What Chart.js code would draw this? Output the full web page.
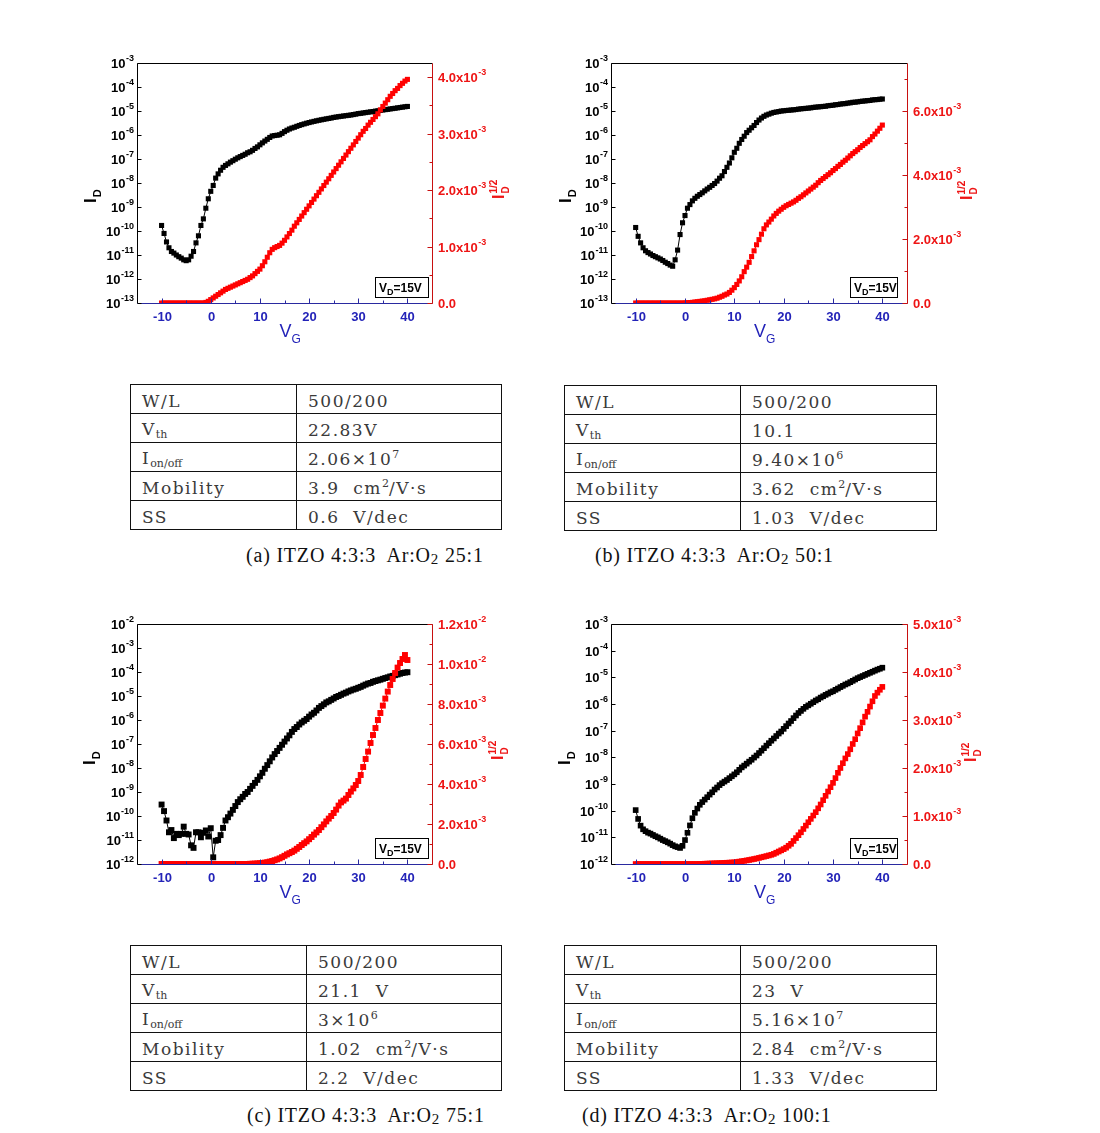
<!DOCTYPE html>
<html>
<head>
<meta charset="utf-8">
<title>ITZO TFT transfer curves</title>
<script src="https://cdn.jsdelivr.net/npm/chart.js@4.4.1/dist/chart.umd.min.js"></script>
<style>
  body { margin: 0; background: #fff; }
  #page { position: relative; width: 1100px; height: 1133px; overflow: hidden; background: #fff; }
  #page canvas { position: absolute; }
  table.param { position: absolute; border-collapse: collapse; table-layout: fixed;
    font-family: "DejaVu Serif", "Liberation Serif", serif; font-size: 17px; color: #3a3a3a; letter-spacing: 1.5px; }
  table.param tr { height: 29px; }
  table.param td { border: 1px solid #111; padding: 3px 0 0 11px; white-space: nowrap; vertical-align: middle; overflow: hidden; }
  table.param sub { font-size: 11px; vertical-align: -3px; letter-spacing: 0; }
  table.param sup { font-size: 11px; vertical-align: 7px; letter-spacing: 0; }
  .caption { position: absolute; font-family: "Liberation Serif", "Times New Roman", serif; font-size: 20px;
    line-height: 20px; letter-spacing: 0.8px; color: #111; white-space: pre; }
  .caption sub { font-size: 15px; vertical-align: -2px; line-height: 0; }
</style>
</head>
<body>
<div id="page"></div>
<script>
// gate voltage sweep, V
const vg = [
  -10, -9.5, -9, -8.5, -8, -7.5, -7, -6.5, -6, -5.5,
  -5, -4.5, -4, -3.5, -3, -2.5, -2, -1.5, -1, -0.5,
  0, 0.5, 1, 1.5, 2, 2.5, 3, 3.5, 4, 4.5,
  5, 5.5, 6, 6.5, 7, 7.5, 8, 8.5, 9, 9.5,
  10, 10.5, 11, 11.5, 12, 12.5, 13, 13.5, 14, 14.5,
  15, 15.5, 16, 16.5, 17, 17.5, 18, 18.5, 19, 19.5,
  20, 20.5, 21, 21.5, 22, 22.5, 23, 23.5, 24, 24.5,
  25, 25.5, 26, 26.5, 27, 27.5, 28, 28.5, 29, 29.5,
  30, 30.5, 31, 31.5, 32, 32.5, 33, 33.5, 34, 34.5,
  35, 35.5, 36, 36.5, 37, 37.5, 38, 38.5, 39, 39.5,
  40
];

// (a) Ar:O2 25:1  -- I_D in A, sqrt(I_D) in units of 1e-3
const aId = [
  1.7e-10, 7.9e-11, 3.5e-11, 2.0e-11, 1.4e-11, 1.2e-11, 1.0e-11, 8.5e-12, 7.4e-12, 6.3e-12,
  5.8e-12, 6.3e-12, 8.9e-12, 1.4e-11, 3.2e-11, 6.3e-11, 1.7e-10, 3.2e-10, 8.9e-10, 2.2e-9,
  4.5e-9, 7.9e-9, 1.6e-8, 2.4e-8, 3.4e-8, 4.5e-8, 5.4e-8, 6.3e-8, 7.4e-8, 8.5e-8,
  9.8e-8, 1.12e-7, 1.26e-7, 1.41e-7, 1.58e-7, 1.82e-7, 2.0e-7, 2.3e-7, 2.75e-7, 3.2e-7,
  3.9e-7, 4.7e-7, 5.6e-7, 6.6e-7, 7.9e-7, 9.1e-7, 9.5e-7, 9.8e-7, 1.02e-6, 1.17e-6,
  1.38e-6, 1.58e-6, 1.78e-6, 1.95e-6, 2.1e-6, 2.3e-6, 2.5e-6, 2.7e-6, 2.9e-6, 3.1e-6,
  3.3e-6, 3.5e-6, 3.7e-6, 3.9e-6, 4.1e-6, 4.3e-6, 4.5e-6, 4.7e-6, 4.9e-6, 5.1e-6,
  5.4e-6, 5.6e-6, 5.8e-6, 6.0e-6, 6.2e-6, 6.4e-6, 6.6e-6, 6.8e-6, 7.1e-6, 7.4e-6,
  7.8e-6, 8.0e-6, 8.3e-6, 8.6e-6, 8.9e-6, 9.2e-6, 9.5e-6, 9.9e-6, 1.02e-5, 1.06e-5,
  1.1e-5, 1.14e-5, 1.17e-5, 1.22e-5, 1.26e-5, 1.3e-5, 1.35e-5, 1.4e-5, 1.45e-5, 1.5e-5,
  1.55e-5
];
const aSqrt = [
  0, 0, 0, 0, 0, 0, 0, 0, 0, 0,
  0, 0, 0, 0, 0, 0, 0, 0, 0.01, 0.03,
  0.06, 0.09, 0.12, 0.15, 0.18, 0.21, 0.24, 0.26, 0.28, 0.30,
  0.32, 0.34, 0.36, 0.38, 0.40, 0.42, 0.45, 0.48, 0.52, 0.56,
  0.60, 0.66, 0.73, 0.81, 0.89, 0.95, 0.98, 1.00, 1.02, 1.06,
  1.11, 1.17, 1.23, 1.29, 1.36, 1.42, 1.48, 1.54, 1.60, 1.66,
  1.72, 1.78, 1.84, 1.90, 1.96, 2.02, 2.08, 2.14, 2.20, 2.26,
  2.32, 2.38, 2.44, 2.50, 2.56, 2.62, 2.68, 2.74, 2.80, 2.86,
  2.92, 2.98, 3.04, 3.09, 3.15, 3.20, 3.25, 3.30, 3.35, 3.42,
  3.48, 3.54, 3.60, 3.66, 3.71, 3.76, 3.80, 3.85, 3.89, 3.93,
  3.96
];

// (b) Ar:O2 50:1
const bId = [
  1.4e-10, 6.0e-11, 3.2e-11, 2.0e-11, 1.5e-11, 1.26e-11, 1.1e-11, 9.5e-12, 8.5e-12, 7.6e-12,
  6.8e-12, 5.9e-12, 5.0e-12, 4.4e-12, 3.8e-12, 3.4e-12, 6.3e-12, 1.6e-11, 7.1e-11, 2.2e-10,
  4.4e-10, 8.9e-10, 1.26e-9, 1.8e-9, 2.3e-9, 2.8e-9, 3.3e-9, 3.9e-9, 4.7e-9, 5.6e-9,
  6.6e-9, 7.9e-9, 9.5e-9, 1.2e-8, 1.58e-8, 2.0e-8, 3.0e-8, 4.5e-8, 6.8e-8, 1.12e-7,
  1.9e-7, 2.8e-7, 4.5e-7, 6.5e-7, 8.9e-7, 1.26e-6, 1.58e-6, 2.0e-6, 2.5e-6, 3.3e-6,
  4.2e-6, 5.1e-6, 6.0e-6, 6.8e-6, 7.4e-6, 8.1e-6, 8.7e-6, 9.1e-6, 9.5e-6, 1.0e-5,
  1.02e-5, 1.05e-5, 1.07e-5, 1.1e-5, 1.12e-5, 1.15e-5, 1.2e-5, 1.23e-5, 1.26e-5, 1.29e-5,
  1.32e-5, 1.35e-5, 1.41e-5, 1.45e-5, 1.48e-5, 1.51e-5, 1.55e-5, 1.58e-5, 1.66e-5, 1.7e-5,
  1.74e-5, 1.82e-5, 1.86e-5, 1.95e-5, 2.0e-5, 2.04e-5, 2.14e-5, 2.19e-5, 2.3e-5, 2.34e-5,
  2.4e-5, 2.5e-5, 2.57e-5, 2.63e-5, 2.7e-5, 2.75e-5, 2.9e-5, 2.95e-5, 3.0e-5, 3.1e-5,
  3.16e-5
];
const bSqrt = [
  0, 0, 0, 0, 0, 0, 0, 0, 0, 0,
  0, 0, 0, 0, 0, 0, 0, 0, 0, 0,
  0.005, 0.01, 0.015, 0.02, 0.03, 0.04, 0.05, 0.06, 0.07, 0.085,
  0.10, 0.115, 0.13, 0.15, 0.18, 0.21, 0.25, 0.28, 0.33, 0.40,
  0.48, 0.58, 0.69, 0.82, 0.98, 1.12, 1.27, 1.45, 1.63, 1.82,
  1.98, 2.15, 2.32, 2.44, 2.53, 2.62, 2.72, 2.80, 2.87, 2.93,
  2.99, 3.04, 3.08, 3.12, 3.16, 3.21, 3.27, 3.32, 3.38, 3.44,
  3.50, 3.56, 3.62, 3.68, 3.76, 3.83, 3.89, 3.95, 4.01, 4.07,
  4.14, 4.20, 4.27, 4.33, 4.40, 4.46, 4.53, 4.60, 4.67, 4.73,
  4.79, 4.86, 4.92, 4.98, 5.04, 5.10, 5.20, 5.28, 5.37, 5.46,
  5.56
];

// (c) Ar:O2 75:1
const cId = [
  3.0e-10, 1.6e-10, 6.5e-11, 2.1e-11, 2.6e-11, 1.2e-11, 1.8e-11, 1.6e-11, 1.8e-11, 3.6e-11,
  1.8e-11, 1.7e-11, 6.0e-12, 4.7e-12, 2.1e-11, 2.1e-11, 1.3e-11, 2.0e-11, 2.5e-11, 1.4e-11,
  3.1e-11, 1.9e-12, 9.3e-12, 1.0e-11, 1.6e-11, 3.2e-11, 6.5e-11, 8.9e-11, 1.26e-10, 1.8e-10,
  2.6e-10, 3.8e-10, 5.0e-10, 6.3e-10, 8.3e-10, 1.0e-9, 1.35e-9, 1.8e-9, 2.4e-9, 3.2e-9,
  4.5e-9, 6.3e-9, 9.3e-9, 1.32e-8, 1.9e-8, 2.75e-8, 3.8e-8, 5.1e-8, 6.9e-8, 9.3e-8,
  1.26e-7, 1.7e-7, 2.3e-7, 3.2e-7, 4.2e-7, 5.1e-7, 6.5e-7, 7.9e-7, 9.3e-7, 1.1e-6,
  1.38e-6, 1.7e-6, 2.0e-6, 2.5e-6, 3.2e-6, 3.8e-6, 4.5e-6, 5.4e-6, 6.0e-6, 6.9e-6,
  7.9e-6, 9.1e-6, 1.0e-5, 1.12e-5, 1.26e-5, 1.38e-5, 1.55e-5, 1.7e-5, 1.86e-5, 2.0e-5,
  2.2e-5, 2.4e-5, 2.7e-5, 3.0e-5, 3.3e-5, 3.5e-5, 3.9e-5, 4.2e-5, 4.5e-5, 4.8e-5,
  5.2e-5, 5.6e-5, 6.0e-5, 6.5e-5, 6.9e-5, 7.4e-5, 7.9e-5, 8.5e-5, 9.1e-5, 9.5e-5,
  9.8e-5
];
const cSqrt = [
  0, 0, 0, 0, 0, 0, 0, 0, 0, 0,
  0, 0, 0, 0, 0, 0, 0, 0, 0, 0,
  0, 0, 0, 0, 0, 0, 0, 0, 0, 0,
  0, 0, 0, 0, 0, 0, 0.01, 0.015, 0.02, 0.03,
  0.04, 0.05, 0.07, 0.09, 0.12, 0.15, 0.19, 0.23, 0.28, 0.34,
  0.41, 0.48, 0.54, 0.60, 0.67, 0.76, 0.85, 0.95, 1.04, 1.13,
  1.24, 1.35, 1.47, 1.58, 1.70, 1.84, 1.98, 2.13, 2.27, 2.40,
  2.55, 2.72, 2.92, 3.08, 3.17, 3.27, 3.45, 3.62, 3.78, 3.95,
  4.15, 4.45, 4.85, 5.25, 5.62, 6.05, 6.45, 6.80, 7.20, 7.55,
  7.92, 8.27, 8.62, 8.95, 9.25, 9.55, 9.82, 10.05, 10.25, 10.45,
  10.2
];

// (d) Ar:O2 100:1
const dId = [
  1.05e-10, 4.9e-11, 2.75e-11, 2.0e-11, 1.7e-11, 1.5e-11, 1.38e-11, 1.23e-11, 1.1e-11, 1.0e-11,
  8.9e-12, 7.9e-12, 7.2e-12, 6.5e-12, 5.8e-12, 5.1e-12, 4.6e-12, 4.3e-12, 4.0e-12, 4.8e-12,
  7.9e-12, 1.48e-11, 2.8e-11, 5.2e-11, 8.3e-11, 1.2e-10, 1.66e-10, 2.1e-10, 2.6e-10, 3.2e-10,
  4.0e-10, 4.9e-10, 6.2e-10, 7.4e-10, 9.1e-10, 1.07e-9, 1.23e-9, 1.41e-9, 1.66e-9, 1.95e-9,
  2.3e-9, 2.75e-9, 3.4e-9, 4.2e-9, 4.9e-9, 5.8e-9, 6.9e-9, 8.1e-9, 9.8e-9, 1.17e-8,
  1.45e-8, 1.78e-8, 2.2e-8, 2.75e-8, 3.4e-8, 4.2e-8, 5.1e-8, 6.3e-8, 7.8e-8, 9.3e-8,
  1.17e-7, 1.48e-7, 1.86e-7, 2.3e-7, 2.95e-7, 3.7e-7, 4.6e-7, 5.5e-7, 6.6e-7, 7.8e-7,
  8.9e-7, 1.02e-6, 1.17e-6, 1.35e-6, 1.51e-6, 1.74e-6, 1.95e-6, 2.2e-6, 2.45e-6, 2.75e-6,
  3.0e-6, 3.4e-6, 3.8e-6, 4.3e-6, 4.8e-6, 5.4e-6, 5.9e-6, 6.6e-6, 7.4e-6, 8.3e-6,
  9.3e-6, 1.02e-5, 1.12e-5, 1.23e-5, 1.35e-5, 1.48e-5, 1.62e-5, 1.78e-5, 1.95e-5, 2.1e-5,
  2.3e-5
];
const dSqrt = [
  0, 0, 0, 0, 0, 0, 0, 0, 0, 0,
  0, 0, 0, 0, 0, 0, 0, 0, 0, 0,
  0, 0, 0, 0, 0, 0, 0.002, 0.004, 0.006, 0.008,
  0.010, 0.012, 0.014, 0.016, 0.018, 0.020, 0.023, 0.026, 0.029, 0.032,
  0.035, 0.042, 0.050, 0.058, 0.066, 0.075, 0.084, 0.094, 0.104, 0.115,
  0.127, 0.140, 0.152, 0.165, 0.178, 0.192, 0.21, 0.235, 0.26, 0.285,
  0.31, 0.34, 0.38, 0.42, 0.48, 0.54, 0.60, 0.66, 0.73, 0.80,
  0.87, 0.94, 1.01, 1.08, 1.16, 1.24, 1.33, 1.42, 1.51, 1.60,
  1.69, 1.79, 1.90, 2.00, 2.10, 2.20, 2.29, 2.39, 2.50, 2.60,
  2.72, 2.83, 2.95, 3.07, 3.17, 3.28, 3.39, 3.50, 3.57, 3.63,
  3.69
];

// axes
const xMajorTicks = [-10, 0, 10, 20, 30, 40];
const xMinorTicks = [-5, 5, 15, 25, 35];
const aLogRange = [-13, -3], bLogRange = [-13, -3], cLogRange = [-12, -2], dLogRange = [-12, -3];
const aRightTicks = [0, 1, 2, 3, 4], aRightMinor = [0.5, 1.5, 2.5, 3.5], aRightMax = 4.25;
const bRightTicks = [0, 2, 4, 6], bRightMinor = [1, 3, 5, 7], bRightMax = 7.5;
const cRightTicks = [0, 2, 4, 6, 8, 10, 12], cRightMinor = [1, 3, 5, 7, 9, 11], cRightMax = 12;
const dRightTicks = [0, 1, 2, 3, 4, 5], dRightMinor = [0.5, 1.5, 2.5, 3.5, 4.5], dRightMax = 5;

// parameter tables and captions
const rowLabels = ['W/L', 'V<sub>th</sub>', 'I<sub>on/off</sub>', 'Mobility', 'SS'];
const aParams = ['500/200', '22.83V', '2.06×10<sup>7</sup>', '3.9&nbsp; cm<sup>2</sup>/V·s', '0.6&nbsp; V/dec'];
const bParams = ['500/200', '10.1', '9.40×10<sup>6</sup>', '3.62&nbsp; cm<sup>2</sup>/V·s', '1.03&nbsp; V/dec'];
const cParams = ['500/200', '21.1&nbsp; V', '3×10<sup>6</sup>', '1.02&nbsp; cm<sup>2</sup>/V·s', '2.2&nbsp; V/dec'];
const dParams = ['500/200', '23&nbsp; V', '5.16×10<sup>7</sup>', '2.84&nbsp; cm<sup>2</sup>/V·s', '1.33&nbsp; V/dec'];
const captions = [
  '(a) ITZO 4:3:3  Ar:O<sub>2</sub> 25:1',
  '(b) ITZO 4:3:3  Ar:O<sub>2</sub> 50:1',
  '(c) ITZO 4:3:3  Ar:O<sub>2</sub> 75:1',
  '(d) ITZO 4:3:3  Ar:O<sub>2</sub> 100:1'
];

const FONT = '"Liberation Sans", Arial, Helvetica, sans-serif';
const BLUE = '#2323b8', BLUE_AXIS = '#2a2aa0';
const RED = '#ee1515', RED_AXIS = '#c81010', MARK_RED = '#ff0000';

const panels = [
  { id: aId, sq: aSqrt, log: aLogRange, rt: aRightTicks, rm: aRightMinor, rmax: aRightMax, params: aParams, r: 3.6,
    left: 60, top: 30, pad: { left: 77, right: 108, top: 33, bottom: 67 }, boxRight: 4, boxW: 53,
    ltX: 41, ltY: 140, rtX: 72, rtY: 136, tableX: 130, tableY: 384, tableW: 372, col1: 166, capX: 246, capY: 545 },
  { id: bId, sq: bSqrt, log: bLogRange, rt: bRightTicks, rm: bRightMinor, rmax: bRightMax, params: bParams, r: 3.6,
    left: 535, top: 30, pad: { left: 76, right: 108, top: 33, bottom: 67 }, boxRight: 10, boxW: 47,
    ltX: 40, ltY: 140, rtX: 65, rtY: 137, tableX: 564, tableY: 385, tableW: 373, col1: 176, capX: 595, capY: 545 },
  { id: cId, sq: cSqrt, log: cLogRange, rt: cRightTicks, rm: cRightMinor, rmax: cRightMax, params: cParams, r: 4.2,
    left: 60, top: 590, pad: { left: 77, right: 108, top: 34, bottom: 66 }, boxRight: 4, boxW: 53,
    ltX: 42, ltY: 141, rtX: 71, rtY: 136, tableX: 130, tableY: 945, tableW: 372, col1: 176, capX: 247, capY: 1105 },
  { id: dId, sq: dSqrt, log: dLogRange, rt: dRightTicks, rm: dRightMinor, rmax: dRightMax, params: dParams, r: 4.0,
    left: 535, top: 590, pad: { left: 76, right: 108, top: 34, bottom: 66 }, boxRight: 10, boxW: 47,
    ltX: 41, ltY: 141, rtX: 69, rtY: 138, tableX: 564, tableY: 945, tableW: 373, col1: 176, capX: 582, capY: 1105 }
];

// text with an optional raised exponent
function drawPower(ctx, base, exp, x, y, size, color, align) {
  const bf = 'bold ' + size + 'px ' + FONT;
  const ef = 'bold ' + Math.round(size * 0.68) + 'px ' + FONT;
  ctx.font = bf;
  const wb = ctx.measureText(base).width;
  ctx.font = ef;
  const we = exp ? ctx.measureText(exp).width + 0.5 : 0;
  let x0 = x;
  if (align === 'right') x0 = x - wb - we;
  if (align === 'center') x0 = x - (wb + we) / 2;
  ctx.fillStyle = color;
  ctx.textAlign = 'left';
  ctx.textBaseline = 'middle';
  ctx.font = bf;
  ctx.fillText(base, x0, y);
  if (exp) {
    ctx.font = ef;
    ctx.fillText(exp, x0 + wb + 0.5, y - size * 0.45);
  }
}

// rotated axis title: main letter with subscript / superscript
function drawRotTitle(ctx, x0, y0, main, sub, sup, size, color) {
  ctx.save();
  ctx.translate(x0, y0);
  ctx.rotate(-Math.PI / 2);
  ctx.textAlign = 'left';
  ctx.textBaseline = 'alphabetic';
  ctx.fillStyle = color;
  ctx.font = 'bold ' + size + 'px ' + FONT;
  ctx.fillText(main, 0, 0);
  const w = ctx.measureText(main).width;
  ctx.font = 'bold ' + Math.round(size * 0.62) + 'px ' + FONT;
  if (sub) ctx.fillText(sub, w + 1, size * 0.3);
  if (sup) ctx.fillText(sup, w + 1, -size * 0.45);
  ctx.restore();
}

function rightLabel(v) {
  if (v === 0) return ['0.0', ''];
  const real = v * 1e-3;
  const e = Math.floor(Math.log10(real) + 1e-9);
  return [(real / Math.pow(10, e)).toFixed(1) + 'x10', String(e)];
}

const framePlugin = {
  id: 'frame',
  afterDatasetsDraw(chart, args, o) {
    const ctx = chart.ctx, a = chart.chartArea, s = chart.scales;
    const L = a.left + 0.5, R = a.right + 0.5, T = a.top + 0.5, B = a.bottom + 0.5;
    ctx.save();
    ctx.lineWidth = 1;
    const seg = (x1, y1, x2, y2, c) => {
      ctx.strokeStyle = c;
      ctx.beginPath();
      ctx.moveTo(x1, y1);
      ctx.lineTo(x2, y2);
      ctx.stroke();
    };

    // V_D box
    const bh = 20, bx = a.right - o.boxRight - o.boxW, by = a.bottom - 6 - bh;
    ctx.fillStyle = '#fff';
    ctx.fillRect(bx, by, o.boxW, bh);
    ctx.strokeStyle = '#000';
    ctx.strokeRect(bx + 0.5, by + 0.5, o.boxW, bh);
    ctx.fillStyle = '#000';
    ctx.textAlign = 'left';
    ctx.textBaseline = 'alphabetic';
    ctx.font = 'bold 12px ' + FONT;
    const wV = ctx.measureText('V').width;
    ctx.fillText('V', bx + 4, by + 15);
    ctx.font = 'bold 9px ' + FONT;
    const wD = ctx.measureText('D').width;
    ctx.fillText('D', bx + 4 + wV, by + 18);
    ctx.font = 'bold 12px ' + FONT;
    ctx.fillText('=15V', bx + 4 + wV + wD, by + 15);

    // frame
    seg(L, T, R, T, '#000');
    seg(L, T, L, B, '#000');
    seg(L, B, R, B, BLUE_AXIS);
    seg(R, T, R, B, RED_AXIS);

    // x axis
    o.xMajor.forEach(v => {
      const px = Math.round(s.x.getPixelForValue(v)) + 0.5;
      seg(px, B, px, B - 5, BLUE_AXIS);
      drawPower(ctx, String(v), '', px, a.bottom + 14, 13, BLUE, 'center');
    });
    o.xMinor.forEach(v => {
      const px = Math.round(s.x.getPixelForValue(v)) + 0.5;
      seg(px, B, px, B - 3, BLUE_AXIS);
    });
    const cx = (a.left + a.right) / 2 - 5;
    ctx.fillStyle = BLUE;
    ctx.textAlign = 'left';
    ctx.textBaseline = 'alphabetic';
    ctx.font = '18px ' + FONT;
    const wVg = ctx.measureText('V').width;
    ctx.fillText('V', cx, a.bottom + 34);
    ctx.font = '12px ' + FONT;
    ctx.fillText('G', cx + wVg, a.bottom + 40);

    // left log axis
    for (let n = o.log[0]; n <= o.log[1]; n++) {
      const py = Math.round(s.y.getPixelForValue(Math.pow(10, n))) + 0.5;
      seg(L, py, L + 4, py, '#000');
      drawPower(ctx, '10', String(n), a.left - 3, py + 1, 13, '#000', 'right');
    }
    drawRotTitle(ctx, a.left - o.ltX, a.top + o.ltY, 'I', 'D', '', 17, '#000');

    // right linear axis
    o.rt.forEach(v => {
      const py = Math.round(s.y2.getPixelForValue(v)) + 0.5;
      seg(R - 5, py, R, py, RED_AXIS);
      const lab = rightLabel(v);
      drawPower(ctx, lab[0], lab[1], a.right + 6, py + 1, 13, RED, 'left');
    });
    o.rm.forEach(v => {
      const py = Math.round(s.y2.getPixelForValue(v)) + 0.5;
      seg(R - 3, py, R, py, RED_AXIS);
    });
    drawRotTitle(ctx, a.right + o.rtX, a.top + o.rtY, 'I', 'D', '1/2', 16, RED);

    ctx.restore();
  }
};

const page = document.getElementById('page');

panels.forEach(p => {
  const cv = document.createElement('canvas');
  cv.width = 480;
  cv.height = 340;
  cv.style.left = p.left + 'px';
  cv.style.top = p.top + 'px';
  page.appendChild(cv);

  new Chart(cv.getContext('2d'), {
    type: 'scatter',
    data: {
      datasets: [
        {
          data: vg.map((v, i) => ({ x: v, y: p.sq[i] })),
          yAxisID: 'y2',
          showLine: true,
          borderColor: MARK_RED,
          borderWidth: 1,
          backgroundColor: MARK_RED,
          pointStyle: 'rect',
          pointRadius: p.r,
          pointBorderWidth: 0
        },
        {
          data: vg.map((v, i) => ({ x: v, y: p.id[i] })),
          yAxisID: 'y',
          showLine: true,
          borderColor: '#000',
          borderWidth: 1,
          backgroundColor: '#000',
          pointStyle: 'rect',
          pointRadius: p.r,
          pointBorderWidth: 0
        }
      ]
    },
    options: {
      responsive: false,
      animation: false,
      devicePixelRatio: 1,
      layout: { padding: p.pad },
      plugins: {
        legend: { display: false },
        tooltip: { enabled: false },
        frame: {
          xMajor: xMajorTicks, xMinor: xMinorTicks, log: p.log, rt: p.rt, rm: p.rm,
          boxRight: p.boxRight, boxW: p.boxW, ltX: p.ltX, ltY: p.ltY, rtX: p.rtX, rtY: p.rtY
        }
      },
      scales: {
        x: { type: 'linear', min: -15, max: 45, display: false },
        y: { type: 'logarithmic', min: Math.pow(10, p.log[0]), max: Math.pow(10, p.log[1]), display: false },
        y2: { type: 'linear', min: 0, max: p.rmax, display: false }
      }
    },
    plugins: [framePlugin]
  });

  // parameter table
  const t = document.createElement('table');
  t.className = 'param';
  t.style.left = p.tableX + 'px';
  t.style.top = p.tableY + 'px';
  t.style.width = p.tableW + 'px';
  let html = '<colgroup><col style="width:' + p.col1 + 'px"><col></colgroup>';
  rowLabels.forEach((lab, i) => {
    html += '<tr><td>' + lab + '</td><td>' + p.params[i] + '</td></tr>';
  });
  t.innerHTML = html;
  page.appendChild(t);
});

panels.forEach((p, i) => {
  const c = document.createElement('div');
  c.className = 'caption';
  c.style.left = p.capX + 'px';
  c.style.top = p.capY + 'px';
  c.innerHTML = captions[i];
  page.appendChild(c);
});
</script>
</body>
</html>
